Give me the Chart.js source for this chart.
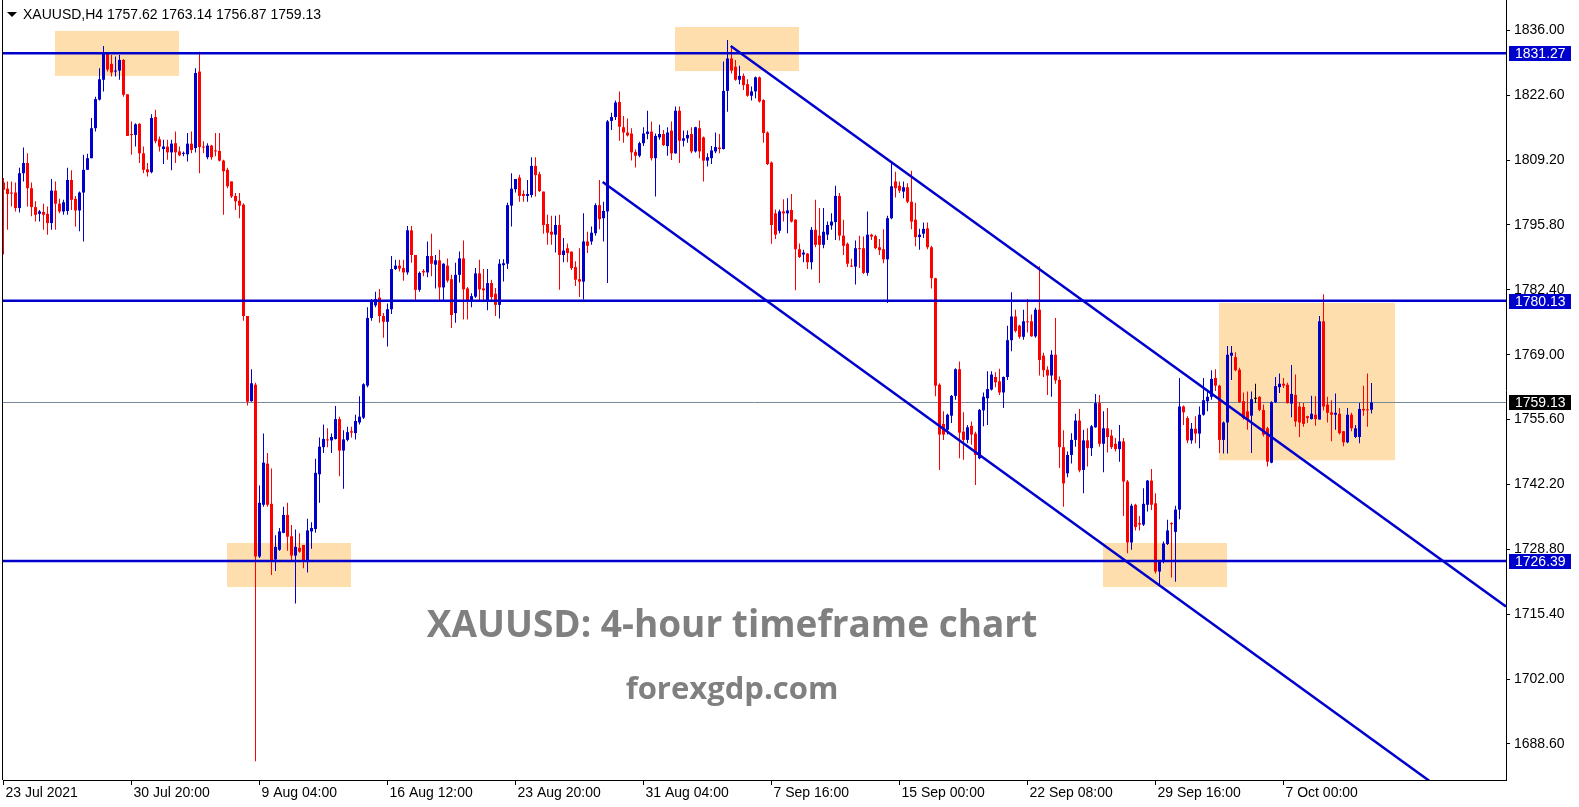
<!DOCTYPE html>
<html>
<head>
<meta charset="utf-8">
<title>XAUUSD H4</title>
<script src="https://cdn.jsdelivr.net/npm/chart.js@4.4.1/dist/chart.umd.min.js"></script>
<style>
  html, body { margin: 0; padding: 0; background: #fff; }
  #wrap { position: relative; width: 1579px; height: 807px; overflow: hidden; }
  #wrap canvas { position: absolute; left: 0; top: 0; }
  .hdr { position: absolute; top: 7px; font: 14px/14px "Liberation Sans", Arial, sans-serif; color: #000; white-space: pre; }
  .tri { position: absolute; left: 7px; top: 12px; width: 0; height: 0;
         border-left: 5px solid transparent; border-right: 5px solid transparent; border-top: 5px solid #000; }
  .wm { position: absolute; left: 0; width: 1464px; text-align: center; font-family: "Open Sans", sans-serif;
        font-weight: 700; color: #808080; white-space: nowrap; }
</style>
</head>
<body>
<div id="wrap">
  <canvas id="chart" width="1579" height="807"></canvas>
  <div class="tri"></div>
  <div class="hdr" style="left:23px">XAUUSD,H4</div>
  <div class="hdr" style="left:107px">1757.62 1763.14 1756.87 1759.13</div>
  <div class="wm" style="top:603px;font-size:37px;line-height:40px">XAUUSD: 4-hour timeframe chart</div>
  <div class="wm" style="top:671px;font-size:31px;line-height:32px">forexgdp.com</div>
</div>
<script>
// H4 candles, 23 Jul 2021 12:00 .. 8 Oct 2021
const opens = [
  1804.6,1803.3,1802.5,1802.5,1799.3,1806.5,1808.6,1803.4,1799.5,1798.1,
  1798.5,1798.1,1796.2,1802.9,1800.2,1798.6,1798.7,1805.1,1801.2,1798.8,
  1802.5,1807.2,1809.6,1815.8,1821.7,1825.8,1831.2,1829.1,1827.5,1827.7,
  1829.9,1822.8,1814.6,1814.4,1816.7,1810.6,1807.3,1806.7,1818.1,1813.5,
  1811.5,1812.0,1810.8,1812.7,1811.0,1810.5,1810.4,1812.6,1811.7,1827.5,
  1812.0,1809.8,1812.2,1811.2,1811.1,1809.1,1807.2,1804.8,1801.8,1800.8,
  1800.0,1777.0,1759.4,1762.8,1727.3,1738.0,1746.5,1738.2,1726.7,1728.7,
  1732.2,1735.9,1731.5,1727.5,1729.1,1729.7,1726.5,1732.5,1733.0,1744.3,
  1749.9,1751.5,1751.3,1751.6,1755.7,1749.2,1751.4,1753.2,1752.8,1755.0,
  1756.0,1762.6,1776.6,1779.2,1780.8,1777.0,1775.8,1778.4,1786.7,1787.4,
  1786.9,1786.0,1794.7,1789.6,1782.4,1786.3,1786.0,1789.4,1787.6,1788.5,
  1782.9,1787.4,1784.6,1777.6,1785.5,1788.9,1782.7,1780.2,1781.0,1785.8,
  1782.7,1780.3,1783.8,1781.6,1779.3,1787.5,1787.8,1799.8,1803.2,1805.6,
  1802.2,1801.8,1802.0,1808.0,1806.3,1802.7,1796.0,1794.4,1793.8,1795.8,
  1789.6,1791.0,1790.3,1787.1,1784.6,1784.1,1792.4,1792.4,1794.1,1799.9,
  1797.2,1798.6,1817.3,1818.1,1821.2,1816.0,1814.9,1814.7,1810.9,1810.1,
  1812.7,1814.6,1815.1,1809.6,1813.9,1814.6,1812.1,1815.3,1810.6,1819.4,
  1813.2,1813.7,1814.6,1811.0,1815.8,1813.9,1809.1,1809.6,1811.0,1811.8,
  1811.5,1823.5,1830.2,1828.5,1825.8,1826.6,1824.9,1822.5,1823.4,1826.3,
  1821.6,1814.9,1808.7,1798.2,1794.6,1798.6,1798.2,1798.9,1796.9,1790.8,
  1789.7,1789.9,1788.1,1794.8,1793.6,1791.7,1793.8,1795.7,1796.4,1801.8,
  1793.6,1791.9,1787.4,1787.2,1791.0,1791.0,1785.9,1793.8,1793.5,1791.2,
  1790.8,1788.7,1797.2,1804.8,1803.9,1802.7,1803.6,1800.6,1796.9,1793.3,
  1794.0,1795.1,1791.2,1784.8,1762.8,1754.7,1753.5,1756.4,1760.5,1766.0,
  1753.1,1751.4,1754.3,1752.7,1747.6,1757.5,1760.0,1761.8,1764.4,1763.5,
  1761.2,1764.4,1772.0,1776.9,1775.0,1772.7,1775.9,1775.9,1772.8,1778.3,
  1768.8,1765.9,1764.7,1769.0,1763.8,1749.9,1744.5,1748.3,1751.4,1755.4,
  1745.2,1751.3,1749.7,1754.0,1759.0,1750.6,1753.8,1752.3,1750.6,1749.5,
  1751.1,1742.8,1730.2,1738.0,1734.2,1733.9,1738.0,1743.0,1738.3,1724.2,
  1726.2,1729.9,1734.2,1732.4,1737.0,1758.3,1755.9,1751.3,1753.7,1752.7,
  1756.6,1759.4,1760.3,1764.2,1762.6,1751.4,1755.0,1768.8,1768.5,1765.9,
  1759.4,1757.3,1756.4,1759.9,1760.3,1757.6,1753.8,1746.7,1759.2,1762.3,
  1763.0,1762.8,1758.9,1760.7,1758.3,1758.2,1756.3,1755.7,1756.6,1755.6,
  1775.9,1758.7,1757.1,1756.6,1756.8,1753.2,1750.9,1756.6,1752.0,1752.0,
  1757.8,1757.6,1757.62
];
const highs = [
  1805.5,1804.8,1804.8,1804.6,1807.6,1811.8,1810.6,1804.6,1800.7,1798.9,
  1800.2,1799.6,1805.3,1804.8,1801.2,1801.0,1807.6,1807.1,1801.8,1802.7,
  1810.3,1810.5,1817.9,1822.3,1828.2,1832.8,1831.3,1830.9,1830.6,1830.9,
  1830.1,1822.8,1817.2,1816.8,1816.8,1812.0,1808.6,1818.7,1819.6,1814.1,
  1813.4,1813.4,1813.4,1815.1,1812.0,1811.0,1814.8,1815.1,1828.2,1831.6,
  1813.1,1812.7,1812.4,1814.8,1814.8,1809.3,1807.6,1804.8,1802.4,1802.4,
  1800.3,1777.0,1766.0,1763.2,1742.0,1752.7,1748.7,1745.5,1731.7,1733.2,
  1737.6,1738.4,1733.8,1732.9,1732.1,1729.7,1735.1,1734.4,1747.5,1751.9,
  1754.6,1753.8,1752.7,1758.4,1756.2,1753.4,1754.1,1754.1,1756.6,1760.4,
  1763.1,1778.8,1780.5,1782.0,1782.6,1777.6,1779.6,1789.4,1788.6,1788.6,
  1788.6,1795.6,1795.6,1789.6,1786.2,1786.7,1792.4,1794.0,1789.6,1790.7,
  1787.9,1788.9,1785.5,1788.0,1790.3,1792.6,1783.0,1781.7,1786.9,1788.6,
  1786.7,1786.7,1784.5,1782.8,1788.7,1788.7,1800.4,1806.5,1805.3,1806.2,
  1803.0,1805.1,1809.8,1809.8,1806.8,1802.7,1797.9,1797.7,1797.7,1797.9,
  1793.1,1792.0,1790.3,1788.3,1791.0,1798.2,1794.4,1795.5,1800.3,1805.1,
  1800.6,1817.5,1819.0,1821.5,1823.4,1818.3,1817.8,1815.8,1811.4,1813.0,
  1816.0,1819.4,1817.2,1814.7,1816.5,1815.4,1816.0,1817.2,1820.3,1820.3,
  1815.3,1815.3,1816.0,1816.1,1817.4,1814.1,1810.6,1812.1,1814.9,1814.6,
  1829.6,1834.0,1832.8,1829.9,1828.7,1827.1,1825.9,1824.4,1826.5,1826.5,
  1821.8,1815.1,1808.9,1799.0,1799.0,1801.1,1801.3,1802.2,1797.0,1792.0,
  1790.7,1790.0,1795.4,1801.0,1799.3,1799.3,1796.5,1798.2,1803.9,1802.4,
  1796.9,1792.2,1788.8,1792.6,1793.6,1793.4,1798.6,1794.0,1793.8,1792.9,
  1794.9,1797.7,1808.7,1806.8,1804.8,1804.8,1804.4,1807.0,1800.4,1795.0,
  1796.3,1796.3,1791.5,1784.9,1763.1,1757.3,1756.8,1760.7,1766.2,1767.6,
  1757.1,1754.5,1755.2,1753.1,1757.8,1761.2,1765.6,1765.6,1765.4,1766.1,
  1764.5,1775.0,1781.9,1778.3,1775.2,1778.3,1780.5,1777.3,1778.7,1787.3,
  1769.4,1766.6,1769.9,1776.6,1764.5,1753.4,1749.0,1752.8,1756.8,1757.8,
  1753.5,1753.8,1754.5,1760.9,1760.7,1757.3,1758.0,1753.5,1751.8,1754.5,
  1751.8,1743.1,1738.2,1738.2,1735.7,1741.4,1743.1,1745.4,1740.4,1726.4,
  1730.4,1734.9,1734.4,1737.8,1764.2,1758.5,1756.3,1754.9,1756.3,1758.3,
  1764.2,1761.4,1765.8,1766.0,1762.8,1755.2,1770.8,1770.8,1769.5,1766.3,
  1761.2,1761.4,1761.4,1763.0,1760.4,1758.7,1754.1,1759.4,1764.4,1765.1,
  1764.2,1763.2,1766.9,1764.9,1759.2,1759.0,1756.4,1760.5,1760.4,1777.0,
  1781.5,1760.3,1759.6,1761.0,1758.0,1753.2,1758.0,1757.0,1754.5,1759.0,
  1762.6,1765.1,1763.14
];
const lows = [
  1789.7,1794.8,1799.6,1798.6,1798.4,1804.8,1799.6,1797.6,1796.5,1796.5,
  1794.8,1793.8,1794.8,1794.8,1798.2,1797.9,1797.9,1798.9,1795.5,1794.5,
  1792.4,1807.2,1809.6,1815.1,1821.5,1823.4,1827.5,1826.5,1826.5,1825.8,
  1822.3,1814.2,1810.3,1812.0,1808.6,1806.5,1805.8,1806.5,1812.7,1811.0,
  1808.4,1809.3,1807.1,1808.6,1810.0,1810.0,1808.9,1810.6,1810.8,1806.5,
  1810.6,1809.4,1809.3,1810.0,1808.9,1797.9,1803.4,1801.4,1798.9,1797.2,
  1776.0,1758.5,1759.3,1685.0,1727.0,1737.6,1737.6,1723.5,1724.3,1728.5,
  1732.1,1728.5,1726.5,1717.6,1728.1,1724.9,1724.0,1728.9,1732.2,1738.4,
  1748.7,1749.9,1748.7,1751.5,1743.9,1741.3,1751.1,1751.9,1751.5,1754.6,
  1755.7,1762.3,1776.0,1778.8,1775.6,1772.5,1770.7,1777.4,1786.5,1786.2,
  1784.3,1785.5,1788.0,1780.3,1782.0,1785.2,1785.0,1785.2,1782.7,1780.3,
  1780.3,1783.9,1774.5,1775.6,1783.9,1776.3,1776.3,1778.8,1780.7,1780.3,
  1780.3,1778.2,1780.2,1777.0,1776.5,1784.1,1786.7,1795.5,1802.5,1800.6,
  1800.6,1800.6,1801.5,1801.7,1802.6,1794.0,1791.7,1791.7,1790.1,1782.4,
  1788.1,1788.1,1786.5,1783.2,1780.9,1780.4,1790.0,1791.7,1793.6,1794.9,
  1792.4,1783.8,1815.4,1817.5,1813.2,1812.8,1814.1,1809.1,1807.7,1809.8,
  1812.1,1813.5,1809.1,1801.7,1813.4,1812.1,1810.1,1809.2,1810.5,1808.6,
  1812.0,1812.8,1810.6,1810.8,1809.6,1804.8,1807.9,1808.4,1810.6,1810.6,
  1811.4,1819.2,1827.1,1825.6,1824.9,1823.7,1822.3,1821.5,1822.0,1821.1,
  1812.8,1808.2,1791.9,1792.9,1794.1,1796.5,1794.1,1796.3,1782.3,1789.0,
  1788.1,1786.7,1786.6,1791.2,1783.8,1791.0,1792.7,1794.8,1792.7,1792.6,
  1789.6,1787.1,1787.1,1783.5,1786.9,1785.7,1785.3,1792.7,1790.8,1789.6,
  1787.9,1779.7,1797.0,1801.5,1802.4,1801.3,1800.3,1794.9,1791.4,1790.7,
  1793.1,1790.8,1782.7,1760.4,1745.2,1751.4,1752.5,1754.9,1759.7,1747.6,
  1747.3,1750.7,1750.4,1742.1,1747.4,1754.2,1754.5,1761.6,1762.3,1760.7,
  1758.0,1763.8,1769.7,1773.6,1772.3,1772.1,1773.6,1772.7,1772.5,1764.7,
  1764.4,1760.7,1760.3,1763.0,1745.6,1737.6,1743.7,1746.5,1750.0,1744.7,
  1740.4,1745.9,1748.1,1753.9,1750.0,1744.7,1748.8,1749.5,1749.0,1746.9,
  1735.7,1728.0,1728.7,1732.7,1732.7,1733.6,1736.6,1736.9,1723.8,1721.1,
  1725.9,1729.7,1723.0,1722.1,1735.0,1754.5,1750.7,1750.6,1750.7,1749.7,
  1756.4,1757.3,1759.7,1761.5,1748.7,1748.6,1748.6,1763.8,1765.6,1759.0,
  1755.6,1753.5,1748.7,1759.0,1757.3,1752.1,1745.9,1746.6,1759.0,1761.1,
  1762.1,1758.9,1756.1,1754.1,1752.0,1754.1,1754.9,1755.6,1754.3,1755.6,
  1757.5,1755.0,1751.1,1753.5,1752.5,1750.1,1750.7,1753.2,1751.8,1750.7,
  1756.4,1754.1,1756.87
];
const closes = [
  1803.1,1802.2,1802.3,1799.3,1806.5,1808.6,1803.4,1799.5,1797.9,1798.6,
  1797.9,1796.2,1802.9,1800.2,1798.6,1800.5,1805.1,1801.0,1798.8,1802.5,
  1807.2,1809.6,1815.8,1821.8,1825.9,1831.3,1827.9,1827.3,1827.6,1829.9,
  1822.7,1814.2,1814.4,1816.6,1810.6,1807.2,1806.7,1817.9,1813.1,1812.0,
  1812.0,1810.8,1812.6,1810.8,1810.2,1810.6,1812.6,1811.3,1827.2,1811.9,
  1811.8,1812.2,1809.8,1811.0,1809.1,1806.9,1803.8,1801.7,1800.7,1799.8,
  1777.0,1759.3,1763.1,1727.3,1738.4,1746.7,1738.0,1726.5,1729.3,1732.5,
  1735.9,1731.4,1727.5,1729.3,1728.3,1726.5,1732.7,1733.2,1744.6,1750.0,
  1751.6,1751.3,1752.0,1755.7,1749.2,1751.5,1753.0,1752.9,1755.3,1756.2,
  1762.9,1776.6,1780.0,1780.5,1777.0,1775.8,1778.4,1786.7,1787.4,1786.8,
  1786.0,1794.7,1789.6,1782.4,1785.9,1786.0,1789.4,1787.8,1788.5,1782.9,
  1787.8,1784.3,1777.2,1785.5,1788.9,1782.5,1780.3,1781.1,1785.8,1782.5,
  1782.3,1783.8,1780.9,1779.3,1787.8,1787.9,1799.9,1803.3,1805.3,1801.8,
  1801.8,1802.2,1808.0,1806.1,1802.8,1795.8,1794.2,1793.8,1795.8,1789.6,
  1790.5,1790.0,1786.9,1784.5,1784.1,1792.4,1791.5,1794.2,1799.9,1797.0,
  1798.7,1817.2,1818.1,1821.1,1816.1,1814.9,1814.3,1810.8,1810.1,1812.7,
  1814.7,1815.1,1809.6,1814.2,1814.6,1812.3,1814.9,1810.6,1819.4,1813.2,
  1813.7,1814.4,1811.0,1816.0,1811.0,1809.1,1809.8,1811.2,1811.9,1811.5,
  1823.5,1830.2,1827.7,1825.8,1826.6,1824.7,1822.5,1823.4,1826.3,1821.3,
  1814.8,1808.4,1795.8,1793.8,1798.6,1798.2,1798.8,1796.5,1790.8,1789.2,
  1790.1,1788.1,1794.8,1791.7,1791.7,1794.4,1795.8,1796.5,1801.8,1793.6,
  1791.5,1787.8,1787.2,1791.0,1790.8,1785.9,1793.8,1793.4,1791.0,1790.6,
  1788.7,1797.2,1803.8,1803.4,1802.9,1803.6,1800.6,1796.5,1793.3,1793.8,
  1795.0,1791.2,1784.8,1762.6,1752.5,1752.5,1756.6,1760.5,1766.0,1752.9,
  1751.4,1754.0,1752.5,1748.3,1757.6,1760.3,1761.9,1764.9,1763.3,1761.2,
  1764.4,1772.0,1776.9,1773.9,1772.7,1775.9,1775.7,1772.8,1778.3,1767.9,
  1765.8,1764.7,1769.0,1763.7,1749.9,1742.4,1748.3,1751.4,1755.4,1745.1,
  1751.3,1749.7,1754.2,1759.0,1750.6,1753.8,1752.0,1749.9,1749.5,1751.1,
  1742.8,1730.2,1737.8,1733.4,1733.9,1738.2,1743.0,1738.0,1724.2,1726.2,
  1730.0,1732.7,1734.0,1737.0,1758.3,1757.1,1751.3,1753.7,1752.7,1756.6,
  1759.6,1760.3,1764.0,1762.6,1751.4,1755.0,1769.0,1769.4,1765.8,1759.2,
  1755.9,1755.7,1759.8,1759.9,1757.6,1752.5,1746.9,1759.2,1762.5,1763.0,
  1762.6,1759.0,1760.9,1755.2,1755.0,1754.7,1755.9,1756.8,1755.7,1775.9,
  1758.3,1757.0,1756.6,1757.0,1752.8,1750.9,1756.6,1753.8,1753.8,1757.8,
  1757.5,1757.5,1759.13
];

// time axis: a label every 32 bars
const xTickBars = [0, 32, 64, 96, 128, 160, 192, 224, 256, 288, 320];
const xTickLabels = ['23 Jul 2021', '30 Jul 20:00', '9 Aug 04:00', '16 Aug 12:00', '23 Aug 20:00',
  '31 Aug 04:00', '7 Sep 16:00', '15 Sep 00:00', '22 Sep 08:00', '29 Sep 16:00', '7 Oct 00:00'];
const yTickValues = [1688.6, 1702.0, 1715.4, 1728.8, 1742.2, 1755.6, 1769.0, 1782.4, 1795.8, 1809.2, 1822.6, 1836.0];

// drawn objects
const levelPrices = [1831.27, 1780.13, 1726.39];
const lastPrice = 1759.13;
const tagPrices = [1831.27, 1780.13, 1759.13, 1726.39];
const upperChannelX = [181.8, 375.6];
const upperChannelY = [1832.8, 1717.0];
const lowerChannelX = [149.8, 375.6];
const lowerChannelY = [1804.7, 1669.5];
const boxStart = [13, 168, 56, 275, 304];
const boxEnd = [44, 199, 87, 306, 348];
const boxTop = [1835.9, 1836.7, 1730.1, 1730.1, 1779.7];
const boxBottom = [1826.6, 1827.6, 1721.0, 1721.0, 1747.2];

const X_MIN = -0.125, X_MAX = 375.625;
const Y_MIN = 1681.14, Y_MAX = 1842.28;
const BLUE = '#0000CD', RED = '#FF0000';
const FONT = '"Liberation Sans", Arial, sans-serif';

Chart.defaults.font.family = FONT;
Chart.defaults.font.size = 14;
Chart.defaults.color = '#000';

const idx = opens.map((_, i) => i);
const candleColors = idx.map(i => closes[i] > opens[i] ? BLUE : (closes[i] < opens[i] ? RED : '#000'));
const wickData = idx.map(i => ({ x: i, y: [lows[i], highs[i]] }));
const bodyData = idx.map(i => ({ x: i, y: [opens[i], closes[i]] }));

function lineSet(xs, ys, color, width, order) {
  return {
    type: 'line',
    data: xs.map((x, k) => ({ x: x, y: ys[k] })),
    borderColor: color,
    borderWidth: width,
    pointRadius: 0,
    fill: false,
    order: order
  };
}

const datasets = [
  lineSet([X_MIN, X_MAX], [lastPrice, lastPrice], '#778899', 1, 10),
  {
    type: 'bar', data: wickData, backgroundColor: candleColors,
    barThickness: 1, grouped: false, inflateAmount: 0, borderWidth: 0, order: 6
  },
  {
    type: 'bar', data: bodyData, backgroundColor: candleColors,
    barThickness: 3, grouped: false, inflateAmount: 0, borderWidth: 0, minBarLength: 1, order: 5
  },
  lineSet(upperChannelX, upperChannelY, BLUE, 2.5, 1),
  lineSet(lowerChannelX, lowerChannelY, BLUE, 2.5, 1)
];
levelPrices.forEach(p => datasets.push(lineSet([X_MIN, X_MAX], [p, p], BLUE, 2.5, 0)));

const chartDecor = {
  id: 'chartDecor',
  beforeDraw(chart) {
    const ctx = chart.ctx;
    ctx.save();
    ctx.fillStyle = '#fff';
    ctx.fillRect(0, 0, chart.width, chart.height);
    ctx.restore();
  },
  beforeDatasetsDraw(chart) {
    // highlight rectangles behind the candles
    const { ctx, scales: { x, y } } = chart;
    ctx.save();
    ctx.fillStyle = '#FFDEAD';
    boxStart.forEach((b, k) => {
      const x0 = x.getPixelForValue(b - 0.125), x1 = x.getPixelForValue(boxEnd[k] - 0.125);
      const y0 = y.getPixelForValue(boxTop[k]), y1 = y.getPixelForValue(boxBottom[k]);
      ctx.fillRect(x0, y0, x1 - x0, y1 - y0);
    });
    ctx.restore();
  },
  afterDraw(chart) {
    const { ctx, chartArea, scales: { y } } = chart;
    ctx.save();
    // left frame line
    ctx.strokeStyle = '#000';
    ctx.lineWidth = 1;
    ctx.beginPath();
    ctx.moveTo(chartArea.left - 0.5, chartArea.top);
    ctx.lineTo(chartArea.left - 0.5, chartArea.bottom);
    ctx.stroke();
    // price tags on the right axis
    ctx.font = '14px ' + FONT;
    ctx.textBaseline = 'middle';
    ctx.textAlign = 'left';
    tagPrices.forEach(p => {
      const py = Math.round(y.getPixelForValue(p));
      ctx.fillStyle = p === lastPrice ? '#000' : BLUE;
      ctx.fillRect(chartArea.right + 3, py - 7, 62, 15);
      ctx.fillStyle = '#fff';
      ctx.fillText(p.toFixed(2), chartArea.right + 9, py + 1);
    });
    ctx.restore();
  }
};

new Chart(document.getElementById('chart'), {
  type: 'bar',
  data: { datasets: datasets },
  options: {
    responsive: false,
    animation: false,
    events: [],
    devicePixelRatio: 1,
    layout: { padding: { left: 3, right: 0, top: 0, bottom: 0 }, autoPadding: false },
    plugins: { legend: { display: false }, tooltip: { enabled: false } },
    scales: {
      x: {
        type: 'linear',
        position: 'bottom',
        min: X_MIN,
        max: X_MAX,
        offset: false,
        grid: { offset: false, drawOnChartArea: false, drawTicks: true, tickLength: 5, color: '#000' },
        border: { display: true, color: '#000', width: 1 },
        ticks: {
          autoSkip: false, maxRotation: 0, minRotation: 0, align: 'start',
          labelOffset: 2, padding: 0, color: '#000',
          callback: (v, i) => xTickLabels[i]
        },
        afterBuildTicks: s => { s.ticks = xTickBars.map(v => ({ value: v })); },
        afterFit: s => { s.height = 27; s.paddingLeft = 0; s.paddingRight = 0; }
      },
      y: {
        type: 'linear',
        position: 'right',
        min: Y_MIN,
        max: Y_MAX,
        grid: { drawOnChartArea: false, drawTicks: true, tickLength: 4, color: '#000' },
        border: { display: true, color: '#000', width: 1 },
        ticks: { padding: 4, color: '#000', autoSkip: false, callback: v => v.toFixed(2) },
        afterBuildTicks: s => { s.ticks = yTickValues.map(v => ({ value: v })); },
        afterFit: s => { s.width = 73; s.paddingTop = 0; s.paddingBottom = 0; }
      }
    }
  },
  plugins: [chartDecor]
});
</script>
</body>
</html>
